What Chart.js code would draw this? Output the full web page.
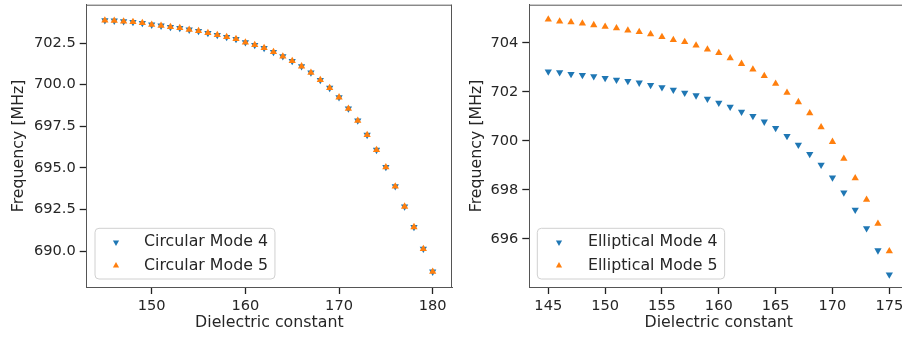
<!DOCTYPE html>
<html>
<head>
<meta charset="utf-8">
<script src="https://cdn.jsdelivr.net/npm/chart.js@4.4.1/dist/chart.umd.min.js"></script>
<style>
html,body{margin:0;padding:0;background:#fff;overflow:hidden;width:902px;height:337px;}
#wrapL{position:absolute;left:0;top:0;width:460px;height:337px;}
#wrapR{position:absolute;left:460px;top:0;width:460px;height:337px;}
</style>
</head>
<body>
<div id="wrapL"><canvas id="cL" width="460" height="337"></canvas></div>
<div id="wrapR"><canvas id="cR" width="460" height="337"></canvas></div>
<script>
// ---------- data ----------
const dielectricCircular = [145,146,147,148,149,150,151,152,153,154,155,156,157,158,159,160,161,162,163,164,165,166,167,168,169,170,171,172,173,174,175,176,177,178,179,180];
const circularMode4 = [703.86,703.84,703.80,703.76,703.70,703.60,703.54,703.46,703.40,703.30,703.22,703.10,702.98,702.86,702.74,702.54,702.38,702.20,701.96,701.70,701.42,701.10,700.72,700.28,699.80,699.24,698.56,697.84,696.98,696.08,695.05,693.89,692.68,691.45,690.14,688.77];
const circularMode5 = [703.86,703.84,703.80,703.76,703.70,703.60,703.54,703.46,703.40,703.30,703.22,703.10,702.98,702.86,702.74,702.54,702.38,702.20,701.96,701.70,701.42,701.10,700.72,700.28,699.80,699.24,698.56,697.84,696.98,696.08,695.05,693.89,692.68,691.45,690.14,688.77];

const dielectricElliptical = [145,146,147,148,149,150,151,152,153,154,155,156,157,158,159,160,161,162,163,164,165,166,167,168,169,170,171,172,173,174,175];
const ellipticalMode4 = [702.82,702.79,702.72,702.68,702.63,702.56,702.49,702.44,702.37,702.27,702.18,702.08,701.96,701.85,701.71,701.55,701.39,701.18,701.01,700.78,700.52,700.19,699.84,699.46,699.02,698.50,697.89,697.19,696.43,695.53,694.55];
const ellipticalMode5 = [704.95,704.87,704.84,704.79,704.72,704.65,704.59,704.50,704.44,704.35,704.24,704.11,704.03,703.89,703.73,703.58,703.37,703.14,702.91,702.65,702.33,701.96,701.58,701.13,700.56,699.96,699.27,698.48,697.60,696.62,695.50];

const xTicksLeft = [150,160,170,180];
const yTicksLeft = [690.0,692.5,695.0,697.5,700.0,702.5];
const xTicksRight = [145,150,155,160,165,170,175];
const yTicksRight = [696,698,700,702,704];

const labelsLeft = ['Circular Mode 4','Circular Mode 5'];
const labelsRight = ['Elliptical Mode 4','Elliptical Mode 5'];
const xTitle = 'Dielectric constant';
const yTitle = 'Frequency [MHz]';

// ---------- styling ----------
const BLUE = '#1f77b4', ORANGE = '#ff7f0e';
const FONT = "'DejaVu Sans', sans-serif";
const TEXT = '#262626';
const SPINE = '#555555';

const framePlugin = {
  id: 'frame',
  afterDraw(chart) {
    const {ctx, chartArea: a} = chart;
    ctx.save();
    ctx.strokeStyle = SPINE;
    ctx.lineWidth = 1;
    ctx.beginPath();
    ctx.moveTo(a.left, a.top + 0.5);
    ctx.lineTo(a.right, a.top + 0.5);
    ctx.moveTo(a.right - 0.5, a.top);
    ctx.lineTo(a.right - 0.5, a.bottom);
    ctx.stroke();
    ctx.restore();
  }
};

function tri(ctx, x, y, r, down, color) {
  ctx.beginPath();
  const s = down ? -1 : 1;
  ctx.moveTo(x, y - s * r);
  ctx.lineTo(x + r * 0.866, y + s * r * 0.5);
  ctx.lineTo(x - r * 0.866, y + s * r * 0.5);
  ctx.closePath();
  ctx.fillStyle = color;
  ctx.fill();
}

const legendPlugin = {
  id: 'boxLegend',
  afterDraw(chart, args, opts) {
    const {ctx, chartArea: a} = chart;
    const ds = chart.data.datasets;
    ctx.save();
    ctx.font = '15.8px ' + FONT;
    let maxW = 0;
    ds.forEach(d => { maxW = Math.max(maxW, ctx.measureText(d.label).width); });
    const bx = a.left + opts.offX;
    const bh = 50.7;
    const by = a.bottom - opts.offY - bh;
    const bw = opts.textX + maxW + 7;
    const r = 4;
    ctx.beginPath();
    ctx.moveTo(bx + r, by);
    ctx.arcTo(bx + bw, by, bx + bw, by + bh, r);
    ctx.arcTo(bx + bw, by + bh, bx, by + bh, r);
    ctx.arcTo(bx, by + bh, bx, by, r);
    ctx.arcTo(bx, by, bx + bw, by, r);
    ctx.closePath();
    ctx.fillStyle = 'rgba(255,255,255,0.8)';
    ctx.fill();
    ctx.strokeStyle = '#d0d0d0';
    ctx.lineWidth = 1;
    ctx.stroke();
    const rows = [by + 14, by + 37.3];
    ds.forEach((d, i) => {
      tri(ctx, bx + opts.markX, rows[i], 3.6, d.rotation === 180, d.backgroundColor);
      ctx.fillStyle = TEXT;
      ctx.textBaseline = 'middle';
      ctx.textAlign = 'left';
      ctx.fillText(d.label, bx + opts.textX, rows[i]);
    });
    ctx.restore();
  }
};

function makeChart(id, xs, s4, s5, labels, xr, yr, xt, yt, yAxisW, yTitlePad, padRight, legendOpts, yFmt) {
  const pts = (arr) => xs.map((x, i) => ({x: x, y: arr[i]}));
  return new Chart(document.getElementById(id), {
    type: 'scatter',
    data: {
      datasets: [
        {label: labels[0], data: pts(s4), backgroundColor: BLUE, borderWidth: 0,
         pointStyle: 'triangle', rotation: 180, pointRadius: 4.2, order: 1},
        {label: labels[1], data: pts(s5), backgroundColor: ORANGE, borderWidth: 0,
         pointStyle: 'triangle', rotation: 0, pointRadius: 4.2, order: 0}
      ]
    },
    options: {
      responsive: false,
      animation: false,
      events: [],
      layout: {padding: {top: 4.7, right: padRight, left: 0, bottom: 0}},
      plugins: {legend: {display: false}, tooltip: {enabled: false}, boxLegend: legendOpts},
      scales: {
        x: {
          type: 'linear', min: xr[0], max: xr[1],
          afterBuildTicks: (s) => { s.ticks = xt.map(v => ({value: v})); },
          afterFit: (s) => { s.height = 50; s.paddingLeft = 0; s.paddingRight = 0; },
          grid: {drawOnChartArea: false, drawTicks: true, tickLength: 7, tickColor: '#222', tickWidth: 1.3},
          border: {display: true, color: SPINE, width: 1},
          ticks: {color: TEXT, font: {family: FONT, size: 14.6}, padding: 3, maxRotation: 0},
          title: {display: true, text: xTitle, color: TEXT, font: {family: FONT, size: 15.8}, padding: {top: 0, bottom: 4.6}}
        },
        y: {
          type: 'linear', min: yr[0], max: yr[1],
          afterBuildTicks: (s) => { s.ticks = yt.map(v => ({value: v})); },
          afterFit: (s) => { s.width = yAxisW; s.paddingTop = 0; s.paddingBottom = 0; },
          grid: {drawOnChartArea: false, drawTicks: true, tickLength: 7, tickColor: '#222', tickWidth: 1.3},
          border: {display: true, color: SPINE, width: 1},
          ticks: {color: TEXT, font: {family: FONT, size: 14.6}, padding: 4, callback: yFmt},
          title: {display: true, text: yTitle, color: TEXT, font: {family: FONT, size: 15.8}, padding: {top: yTitlePad, bottom: 0}}
        }
      }
    },
    plugins: [framePlugin, legendPlugin]
  });
}

makeChart('cL', dielectricCircular, circularMode4, circularMode5, labelsLeft,
  [143.06, 182.06], [687.85, 704.8], xTicksLeft, yTicksLeft, 86.7, 9, 8,
  {offX: 8.3, offY: 8, markX: 21, textX: 49}, (v) => v.toFixed(1));

makeChart('cR', dielectricElliptical, ellipticalMode4, ellipticalMode5, labelsRight,
  [143.33, 176.67], [694.04, 705.55], xTicksRight, yTicksRight, 69.3, 7.3, 11.7,
  {offX: 8, offY: 8, markX: 21.7, textX: 50.7}, (v) => v.toFixed(0));
</script>
</body>
</html>
